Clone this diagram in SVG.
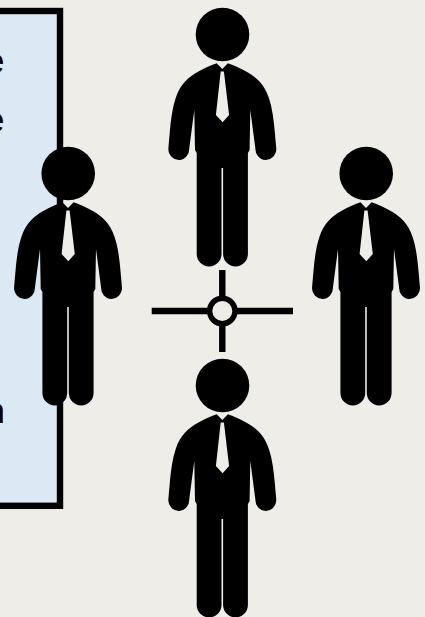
<svg xmlns="http://www.w3.org/2000/svg" width="425" height="617" viewBox="0 0 425 617">
  <style>
    .ink { fill: #000; }
    .tie { fill: #eeede8; }
    .letter { font-family: "Liberation Sans", Arial, sans-serif; font-size: 35px; fill: #000; text-anchor: end; }
    .cross { stroke: #000; stroke-width: 6.4; fill: none; }
  </style>
  <defs>
    <g id="person">
      <circle class="ink" cx="0.2" cy="34.5" r="26.8"/>
      <path class="ink" d="M0,69 L-5.6,63.3 C-12,65.5 -18,68.5 -24.3,71.7 C-34,77 -42,84 -46.6,98 C-50,108 -51.5,120 -52.6,133 L-54,149 A10.5,11.5 0 0 0 -33,148 L-28,110 L-27.3,150 L-25.6,153 V254 A12.3,12.3 0 0 0 -0.8,254 V168 H0.8 V254 A12.3,12.3 0 0 0 25.6,254 V153 L27.3,150 L28,110 L33,148 A10.5,11.5 0 0 0 54,149 L52.6,133 C51.5,120 50,108 46.6,98 C42,84 34,77 24.3,71.7 C18,68.5 12,65.5 5.6,63.3 Z"/>
      <path class="tie" d="M-1.6,71.5 H1.6 L6.8,115 L0.3,122.3 L-6.4,115 Z"/>
    </g>
  </defs>
  <rect width="425" height="617" fill="#eeede8"/>
  <g id="panel">
    <rect x="-10" y="11" width="70" height="494.8" fill="#dce9f4" stroke="#000" stroke-width="6.4"/>
    <text class="letter" x="4.5" y="73">e</text>
    <text class="letter" x="4.5" y="132">e</text>
    <text class="letter" x="5" y="423">n</text>
  </g>
  <g id="person-top"><use href="#person" x="222.3" y="0"/></g>
  <g id="person-left"><use href="#person" x="68" y="139"/></g>
  <g id="person-right"><use href="#person" x="366" y="139"/></g>
  <g id="person-bottom"><use href="#person" x="222.3" y="351"/></g>
  <g id="connectors">
    <line class="cross" x1="151.7" y1="311" x2="293" y2="311"/>
    <line class="cross" x1="222.3" y1="270" x2="222.3" y2="352"/>
    <circle cx="222.3" cy="311" r="12.7" fill="#eeede8" stroke="#000" stroke-width="5.4"/>
  </g>
</svg>
